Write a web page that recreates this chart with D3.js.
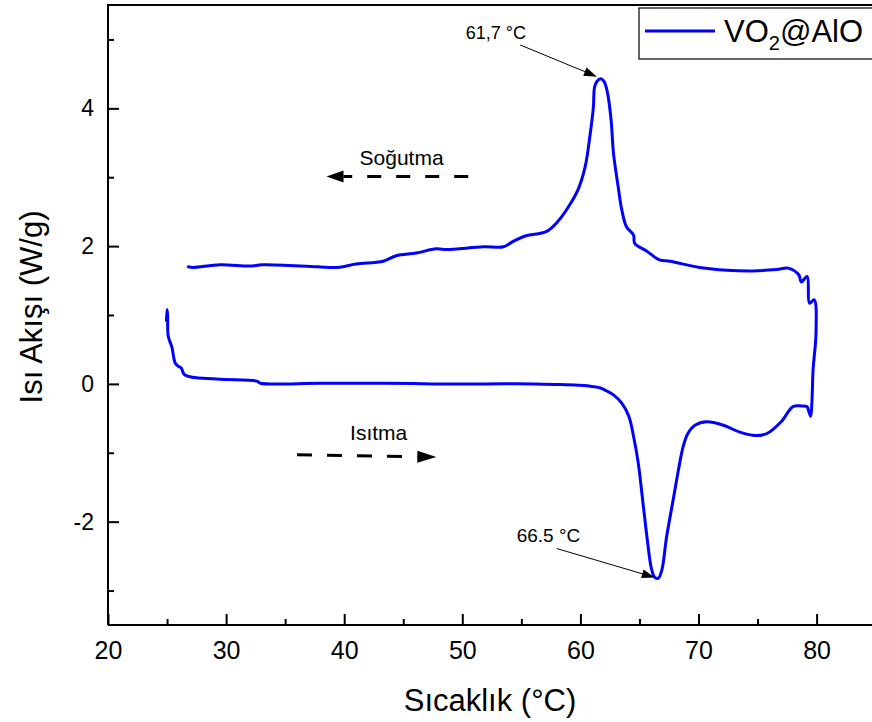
<!DOCTYPE html>
<html><head><meta charset="utf-8">
<script src="https://cdn.jsdelivr.net/npm/d3@7"></script>
<style>
body{margin:0;background:#fff}
svg{display:block}
text{font-family:Arial,"Liberation Sans",Helvetica,sans-serif;fill:#000}
</style></head>
<body><svg id="c" width="872" height="722"></svg>
<script>
// Heating run (Isıtma) – temperature (°C) and heat flow (W/g)
const heatT = [24.95,25.0,25.05,25.1,25.4,25.7,26.0,26.2,26.5,29.2,32.6,32.9,38.0,43.3,47.5,52.0,56.0,58.3,60.0,61.1,61.7,62.2,62.8,63.5,64.1,64.5,64.9,65.3,65.7,66.0,66.3,66.6,66.9,67.3,67.9,68.3,68.7,69.1,69.7,70.7,72.1,73.5,74.8,75.8,77.0,78.0,78.7,79.2,79.3,79.5,79.6,79.7,79.95];
const heatQ = [0.92,1.08,1.0,0.69,0.54,0.30,0.25,0.23,0.13,0.07,0.04,0.01,0.01,0.01,0.0,0.0,0.0,-0.01,-0.02,-0.04,-0.06,-0.10,-0.16,-0.28,-0.47,-0.76,-1.15,-1.73,-2.31,-2.67,-2.81,-2.82,-2.70,-2.22,-1.64,-1.25,-0.91,-0.72,-0.60,-0.55,-0.60,-0.70,-0.75,-0.72,-0.55,-0.33,-0.32,-0.33,-0.38,-0.47,-0.28,0.2,0.74];
// Cooling run (Soğutma)
const coolT = [79.8,79.4,79.2,78.7,78.5,77.6,76.6,74.6,72.4,70.1,67.6,66.7,65.6,64.6,64.5,63.9,63.5,63.2,62.8,62.6,62.3,62.0,61.7,61.4,61.2,61.1,60.8,60.4,59.8,59.1,58.1,57.1,55.4,54.3,53.5,51.8,48.7,47.8,46.1,44.4,43.3,41.0,39.4,37.7,33.1,32.0,29.5,27.2,26.8];
const coolQ = [1.22,1.17,1.56,1.48,1.58,1.68,1.66,1.64,1.65,1.69,1.78,1.80,1.93,2.04,2.16,2.28,2.53,2.86,3.35,3.83,4.22,4.39,4.43,4.39,4.31,4.02,3.59,3.15,2.82,2.60,2.36,2.21,2.15,2.07,1.99,1.99,1.95,1.96,1.90,1.86,1.78,1.74,1.69,1.70,1.73,1.71,1.73,1.69,1.70];

const xMajor = [20,30,40,50,60,70,80];
const xMinor = [25,35,45,55,65,75,85];
const yMajor = [-2,0,2,4];
const yMinor = [-3,-1,1,3,5];
const seriesName = "VO";
const xTitle = "Sıcaklık (°C)";
const yTitle = "Isı Akışı (W/g)";

const svg = d3.select("#c");
const L=108, T=5, B=625;
const x = d3.scaleLinear().domain([20,86]).range([L, L+66*11.81]);
const y = d3.scaleLinear().domain([-3.5,5.5]).range([B,T]);

const g = svg.append("g");

// top border
g.append("line").attr("x1",L).attr("x2",872).attr("y1",T).attr("y2",T).attr("stroke","#000").attr("stroke-width",2);

// axes
const fmt = d => String(d);
const xAx = g.append("g").attr("transform",`translate(0,${B})`)
  .call(d3.axisBottom(x).tickValues(xMajor).tickSizeInner(-11).tickSizeOuter(0).tickPadding(16).tickFormat(fmt));
const xAxm = g.append("g").attr("transform",`translate(0,${B})`)
  .call(d3.axisBottom(x).tickValues(xMinor).tickSizeInner(-6).tickSizeOuter(0).tickFormat(""));
const yAx = g.append("g").attr("transform",`translate(${L},0)`)
  .call(d3.axisLeft(y).tickValues(yMajor).tickSizeInner(-11).tickSizeOuter(0).tickPadding(14).tickFormat(fmt));
const yAxm = g.append("g").attr("transform",`translate(${L},0)`)
  .call(d3.axisLeft(y).tickValues(yMinor).tickSizeInner(-6).tickSizeOuter(0).tickFormat(""));
xAxm.select(".domain").remove(); yAxm.select(".domain").remove();
g.selectAll(".domain").attr("stroke","#000").attr("stroke-width",2);
g.selectAll(".tick line").attr("stroke","#000").attr("stroke-width",2);
xAx.selectAll("text").attr("font-size",25).attr("font-family","Arial, Liberation Sans, sans-serif");
yAx.selectAll("text").attr("font-size",23).attr("font-family","Arial, Liberation Sans, sans-serif");
xAx.select(".domain").attr("d",`M${L},0H880`);
yAx.select(".domain").attr("d",`M0,${B}V${T-1}`);

// titles
svg.append("text").attr("x",490).attr("y",711).attr("text-anchor","middle").attr("font-size",31).text(xTitle);
svg.append("text").attr("transform",`translate(42,307) rotate(-90)`).attr("text-anchor","middle").attr("font-size",31).text(yTitle);

// curve
const pts = heatT.map((t,i)=>[t,heatQ[i]]).concat(coolT.map((t,i)=>[t,coolQ[i]]));
const line = d3.line().x(d=>x(d[0])).y(d=>y(d[1])).curve(d3.curveCatmullRom.alpha(0.5));
g.append("path").attr("d",line(pts)).attr("fill","none").attr("stroke","#0000ff").attr("stroke-width",3).attr("stroke-linejoin","round").attr("stroke-linecap","round");

// arrow helper
function arrow(x1,y1,x2,y2,w,len,half,dash){
  const dx=x2-x1, dy=y2-y1, d=Math.hypot(dx,dy), ux=dx/d, uy=dy/d;
  const bx=x2-ux*len, by=y2-uy*len;
  const ln = svg.append("line").attr("x1",x1).attr("y1",y1).attr("x2",bx).attr("y2",by).attr("stroke","#000").attr("stroke-width",w);
  if(dash) ln.attr("stroke-dasharray",dash);
  svg.append("path").attr("d",`M${x2},${y2}L${bx-uy*half},${by+ux*half}L${bx+uy*half},${by-ux*half}Z`).attr("fill","#000");
}

// annotations (data coordinates)
svg.append("text").attr("x",x(50.3)).attr("y",y(5.0)).attr("font-size",18).text("61,7 °C");
arrow(x(54.9),y(4.92),x(61.4),y(4.46),1,13,4.5);
svg.append("text").attr("x",x(54.6)).attr("y",y(-2.30)).attr("font-size",19).text("66.5 °C");
arrow(x(58.0),y(-2.39),x(66.3),y(-2.81),1,13,4.5);

svg.append("text").attr("x",x(41.3)).attr("y",y(3.18)).attr("font-size",21).text("Soğutma");
arrow(x(50.5),y(3.01),x(38.5),y(3.01),3,17,6,"14,15");
svg.append("text").attr("x",x(40.5)).attr("y",y(-0.81)).attr("font-size",21).text("Isıtma");
arrow(x(36.0),y(-1.03),x(47.8),y(-1.06),3,19,6,"15,15");

// legend
const lg = svg.append("g");
lg.append("rect").attr("x",639).attr("y",8).attr("width",300).attr("height",51).attr("fill","#fff").attr("stroke","#000").attr("stroke-width",1.2);
lg.append("line").attr("x1",645).attr("x2",715).attr("y1",31).attr("y2",31).attr("stroke","#0000ff").attr("stroke-width",3);
const lt = lg.append("text").attr("x",724).attr("y",42).attr("font-size",31);
lt.append("tspan").text(seriesName);
lt.append("tspan").attr("font-size",20).attr("dy",8).text("2");
lt.append("tspan").attr("dy",-8).text("@AlO");
</script></body></html>
